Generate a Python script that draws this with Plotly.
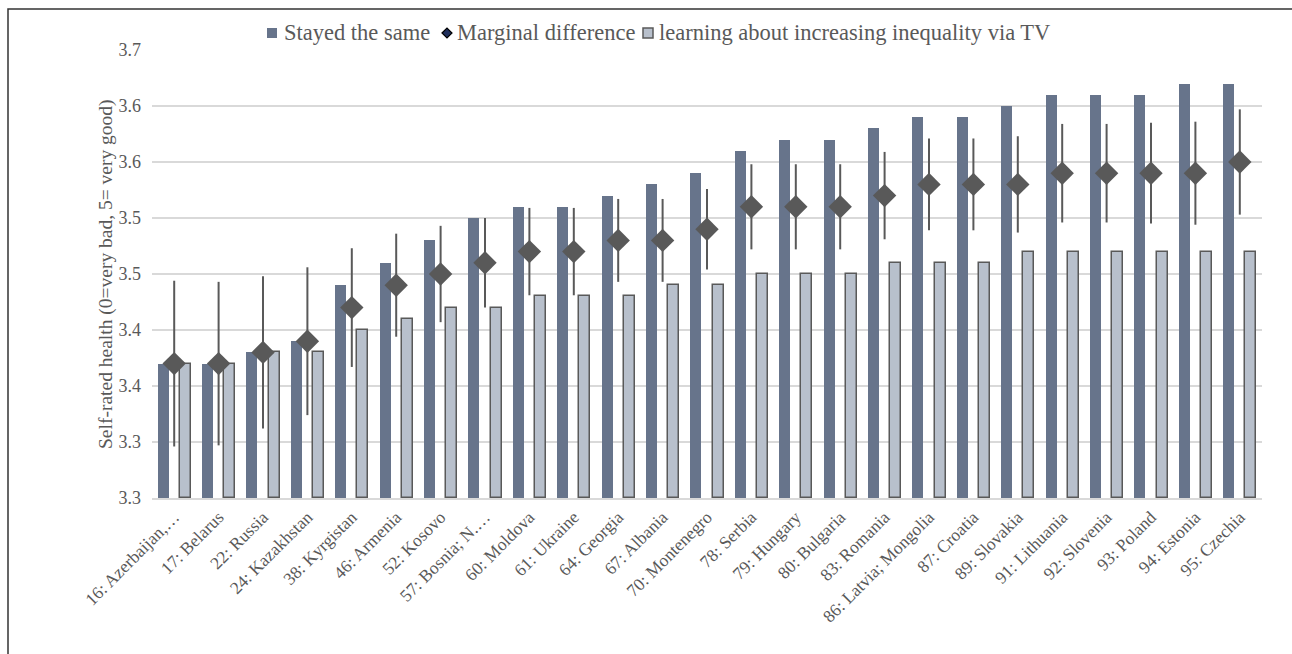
import plotly.graph_objects as go

# Country labels (rank: country)
countries = [
    "16: Azerbaijan,…", "17: Belarus", "22: Russia", "24: Kazakhstan",
    "38: Kyrgistan", "46: Armenia", "52: Kosovo", "57: Bosnia; N.…",
    "60: Moldova", "61: Ukraine", "64: Georgia", "67: Albania",
    "70: Montenegro", "78: Serbia", "79: Hungary", "80: Bulgaria",
    "83: Romania", "86: Latvia; Mongolia", "87: Croatia", "89: Slovakia",
    "91: Lithuania", "92: Slovenia", "93: Poland", "94: Estonia", "95: Czechia",
]

# Predicted self-rated health
stayed_same = [3.42, 3.42, 3.43, 3.44, 3.49, 3.51, 3.53, 3.55, 3.56, 3.56,
               3.57, 3.58, 3.59, 3.61, 3.62, 3.62, 3.63, 3.64, 3.64, 3.65,
               3.66, 3.66, 3.66, 3.67, 3.67]
marginal = [3.42, 3.42, 3.43, 3.44, 3.47, 3.49, 3.50, 3.51, 3.52, 3.52,
            3.53, 3.53, 3.54, 3.56, 3.56, 3.56, 3.57, 3.58, 3.58, 3.58,
            3.59, 3.59, 3.59, 3.59, 3.60]
learning_tv = [3.42, 3.42, 3.43, 3.43, 3.45, 3.46, 3.47, 3.47, 3.48, 3.48,
               3.48, 3.49, 3.49, 3.50, 3.50, 3.50, 3.51, 3.51, 3.51, 3.52,
               3.52, 3.52, 3.52, 3.52, 3.52]
# Half-width of confidence interval around the marginal difference
ci_half = [0.074, 0.073, 0.068, 0.066, 0.053, 0.046, 0.043, 0.040, 0.039, 0.039,
           0.037, 0.037, 0.036, 0.038, 0.038, 0.038, 0.039, 0.041, 0.041, 0.043,
           0.044, 0.044, 0.045, 0.046, 0.047]

y_ticks = [3.30, 3.35, 3.40, 3.45, 3.50, 3.55, 3.60, 3.65, 3.70]
y_tick_text = ["3.3", "3.3", "3.4", "3.4", "3.5", "3.5", "3.6", "3.6", "3.7"]

legend_labels = ["Stayed the same", "Marginal difference",
                 "learning about increasing inequality via TV"]

SERIF = "Liberation Serif, Times New Roman, serif"
TEXT = "#595959"
C_SAME = "#67748B"
C_TV = "#B8C0CC"
C_MARK = "#595959"
BASE = 3.30

W, H = 1292, 654
M_L, M_R, M_T, M_B = 152, 30, 50, 156
PW = W - M_L - M_R
PH = H - M_T - M_B


def px(x):
    """Pixel x -> paper x."""
    return (x - M_L) / PW


def py(y):
    """Pixel y (from top) -> paper y."""
    return (H - M_B - y) / PH


fig = go.Figure()

fig.add_trace(go.Bar(
    x=countries, y=[v - BASE for v in stayed_same], base=BASE,
    name=legend_labels[0],
    marker=dict(color=C_SAME, line=dict(width=0)),
    width=0.25, offset=-0.375,
))

fig.add_trace(go.Scatter(
    x=countries, y=marginal, mode="markers", name=legend_labels[1],
    marker=dict(symbol="diamond", size=18, color=C_MARK, line=dict(width=0)),
    error_y=dict(type="data", array=ci_half, visible=True,
                 color=C_MARK, thickness=2, width=0),
))

fig.add_trace(go.Bar(
    x=countries, y=[v - BASE for v in learning_tv], base=BASE,
    name=legend_labels[2],
    marker=dict(color=C_TV, line=dict(color=C_MARK, width=1.5)),
    width=0.25, offset=0.125,
))

# Legend drawn in the top margin: swatches + labels
leg_y = 33
fig.add_shape(type="rect", xref="paper", yref="paper",
              x0=px(267), x1=px(277), y0=py(leg_y + 5), y1=py(leg_y - 5),
              fillcolor=C_SAME, line=dict(width=0))
fig.add_shape(type="path", xref="paper", yref="paper",
              path=(f"M {px(442)},{py(leg_y)} L {px(447)},{py(leg_y - 5)} "
                    f"L {px(452)},{py(leg_y)} L {px(447)},{py(leg_y + 5)} Z"),
              fillcolor="#1F2F5C", line=dict(color="#000000", width=1.2))
fig.add_shape(type="rect", xref="paper", yref="paper",
              x0=px(643), x1=px(653), y0=py(leg_y + 5), y1=py(leg_y - 5),
              fillcolor=C_TV, line=dict(color=C_MARK, width=1.5))
for label, x0 in zip(legend_labels, [282, 455, 657]):
    fig.add_annotation(text=label, xref="paper", yref="paper",
                       x=px(x0), y=py(leg_y), xanchor="left", yanchor="middle",
                       showarrow=False,
                       font=dict(family=SERIF, size=22.5, color=TEXT))

# Outer frame (top and left edges)
fig.add_shape(type="path", xref="paper", yref="paper",
              path=f"M {px(8)},{py(660)} L {px(8)},{py(9)} L {px(1300)},{py(9)}",
              line=dict(color="#333333", width=1.5))

fig.add_annotation(
    text="Self-rated health (0=very bad, 5= very good)",
    xref="paper", yref="paper", x=px(93), y=0.5, textangle=-90,
    showarrow=False, font=dict(family=SERIF, size=19.5, color=TEXT),
)

fig.update_layout(
    width=W, height=H,
    margin=dict(l=M_L, r=M_R, t=M_T, b=M_B, autoexpand=False),
    plot_bgcolor="white", paper_bgcolor="white",
    font=dict(family=SERIF, color=TEXT),
    showlegend=False,
    bargap=0, barmode="overlay",
    xaxis=dict(type="category", tickangle=-45,
               tickfont=dict(family=SERIF, size=17.5, color=TEXT),
               showgrid=False, showline=True, linecolor="#D9D9D9", linewidth=2,
               ticks="", range=[-0.5, 24.5]),
    yaxis=dict(range=[3.30, 3.70], tickvals=y_ticks, ticktext=y_tick_text,
               tickfont=dict(family=SERIF, size=18, color=TEXT),
               showgrid=True, gridcolor="#D9D9D9", gridwidth=2,
               zeroline=False, showline=False, ticks="", ticklabelstandoff=10),
)

fig.write_html("out.html")
